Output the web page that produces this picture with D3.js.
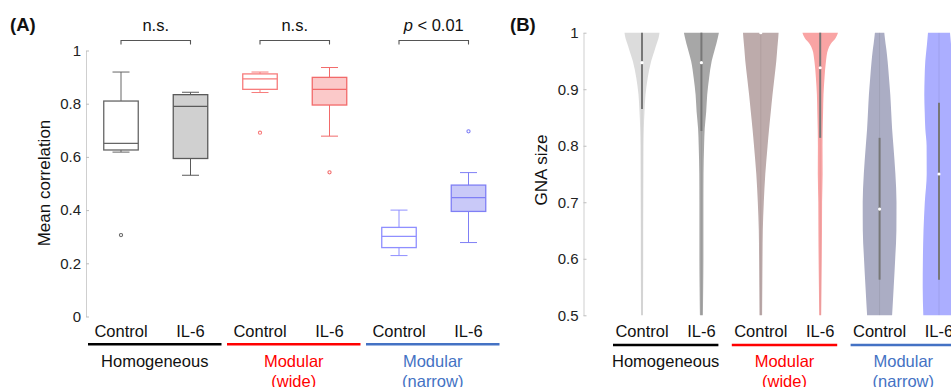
<!DOCTYPE html>
<html>
<head>
<meta charset="utf-8">
<script src="https://cdn.jsdelivr.net/npm/d3@7"></script>
<style>
  body { margin: 0; background: #fff; }
  svg { display: block; font-family: "Liberation Sans", Arial, sans-serif; }
</style>
</head>
<body>
<svg id="chart" width="951" height="387"></svg>
<script>
// ---------- shared categories ----------
const conditions = ["Control", "IL-6"];
const groupLabels = [["Homogeneous"], ["Modular", "(wide)"], ["Modular", "(narrow)"]];
const groupColors = ["#000000", "#ff0000", "#4472c4"];
const groupTextColors = ["#111111", "#ff0000", "#4472c4"];

// ---------- panel A: mean correlation box plots ----------
const corrTicks = [0, 0.2, 0.4, 0.6, 0.8, 1];
const boxWhiskerLow  = [0.618, 0.531, 0.842, 0.678, 0.229, 0.278];
const boxQ1          = [0.626, 0.594, 0.854, 0.795, 0.259, 0.395];
const boxMedian      = [0.651, 0.790, 0.893, 0.854, 0.301, 0.447];
const boxQ3          = [0.810, 0.834, 0.912, 0.899, 0.335, 0.494];
const boxWhiskerHigh = [0.919, 0.843, 0.919, 0.936, 0.400, 0.541];
const outlierBox     = [0, 2, 3, 5];
const outlierValue   = [0.306, 0.691, 0.542, 0.696];
const sigLabels      = ["n.s.", "n.s.", "p < 0.01"];

const boxStroke = ["#666666", "#5a5a5a", "#f77c7c", "#f26a6a", "#8f8fff", "#7f7ff5"];
const boxFill   = ["#ffffff", "#d0d0d0", "#ffffff", "#fbc9c9", "#ffffff", "#c9c9f8"];

// ---------- panel B: GNA size violins ----------
const gnaTicks = [0.5, 0.6, 0.7, 0.8, 0.9, 1];
const gnaGrid = [0.5, 0.55, 0.6, 0.65, 0.7, 0.75, 0.8, 0.83, 0.86, 0.89, 0.92, 0.95, 0.97, 0.98, 0.99, 1.0];
const densHomControl = [1.0, 1.1, 1.2, 1.2, 1.3, 1.4, 1.5, 1.8, 2.5, 3.5, 5.7, 9.2, 12.8, 14.6, 16.5, 17.5];
const densHomIL6     = [1.5, 1.8, 2.0, 2.0, 2.0, 2.1, 2.7, 3.3, 4.8, 5.8, 7.7, 10.3, 13.3, 14.9, 16.3, 17.5];
const densWideControl= [1.3, 1.5, 1.7, 2.0, 3.0, 4.5, 6.8, 8.3, 10.0, 11.7, 13.6, 15.5, 16.4, 16.9, 17.4, 17.8];
const densWideIL6    = [1.0, 1.3, 1.6, 1.8, 1.9, 2.4, 2.3, 2.5, 2.9, 3.3, 4.3, 5.8, 7.8, 10.5, 15.3, 17.8];
const densNarControl = [12.5, 14.1, 15.6, 16.8, 16.9, 15.8, 13.8, 12.5, 11.6, 10.7, 9.4, 8.0, 6.8, 6.0, 5.3, 4.7];
const densNarIL6     = [15.7, 16.3, 16.1, 15.5, 14.2, 12.3, 12.4, 13.7, 14.3, 14.7, 14.4, 13.7, 12.6, 12.0, 11.5, 11.0];
const violinDensity = [densHomControl, densHomIL6, densWideControl, densWideIL6, densNarControl, densNarIL6];
const violinMedian      = [0.947, 0.947, 1.0, 0.938, 0.688, 0.750];
const violinWhiskerLow  = [0.865, 0.826, 1.0, 0.814, 0.563, 0.563];
const violinWhiskerHigh = [1.0, 1.0, 1.0, 1.0, 0.814, 0.876];
const violinFill = ["#dcdcdc", "#a7a7a7", "#bdabab", "#f9a4a4", "#abadc4", "#abaeff"];

const svg = d3.select("#chart");
const tickFmt = d => (d === 0 || d === 1) ? String(d) : d.toFixed(1);

function styleAxis(g) {
  g.select(".domain").attr("stroke", "#cfcfcf");
  g.selectAll(".tick line").attr("stroke", "#bdbdbd");
  g.selectAll(".tick text").attr("fill", "#222").attr("font-size", 15)
    .attr("font-family", "Liberation Sans, Arial, sans-serif");
}

// ===== Panel A =====
const yA = d3.scaleLinear().domain([0, 1]).range([316.5, 50.5]);
const xA = d3.scalePoint().domain(d3.range(6)).range([121, 468.5]);
const boxW = 34.5, capW = 17;

svg.append("text").attr("x", 10).attr("y", 31).attr("font-size", 18.5)
  .attr("font-weight", "bold").attr("fill", "#111").text("(A)");

svg.append("g").attr("transform", "translate(86,0)")
  .call(d3.axisLeft(yA).tickValues(corrTicks).tickFormat(tickFmt)
    .tickSizeInner(-3).tickSizeOuter(0).tickPadding(5))
  .call(styleAxis);

svg.append("text")
  .attr("transform", "translate(50,183) rotate(-90)")
  .attr("text-anchor", "middle").attr("font-size", 17).attr("fill", "#111")
  .text("Mean correlation");

const boxes = svg.append("g").selectAll("g").data(d3.range(6)).join("g")
  .attr("transform", i => `translate(${xA(i)},0)`);
boxes.append("line").attr("y1", i => yA(boxWhiskerLow[i])).attr("y2", i => yA(boxQ1[i]))
  .attr("stroke", i => boxStroke[i]);
boxes.append("line").attr("y1", i => yA(boxQ3[i])).attr("y2", i => yA(boxWhiskerHigh[i]))
  .attr("stroke", i => boxStroke[i]);
boxes.append("line").attr("x1", -capW / 2).attr("x2", capW / 2)
  .attr("y1", i => yA(boxWhiskerLow[i])).attr("y2", i => yA(boxWhiskerLow[i]))
  .attr("stroke", i => boxStroke[i]);
boxes.append("line").attr("x1", -capW / 2).attr("x2", capW / 2)
  .attr("y1", i => yA(boxWhiskerHigh[i])).attr("y2", i => yA(boxWhiskerHigh[i]))
  .attr("stroke", i => boxStroke[i]);
boxes.append("rect").attr("x", -boxW / 2).attr("width", boxW)
  .attr("y", i => yA(boxQ3[i])).attr("height", i => yA(boxQ1[i]) - yA(boxQ3[i]))
  .attr("fill", i => boxFill[i]).attr("stroke", i => boxStroke[i]).attr("stroke-width", 1.3);
boxes.append("line").attr("x1", -boxW / 2).attr("x2", boxW / 2)
  .attr("y1", i => yA(boxMedian[i])).attr("y2", i => yA(boxMedian[i]))
  .attr("stroke", i => boxStroke[i]).attr("stroke-width", 1.3);

svg.append("g").selectAll("circle").data(outlierBox).join("circle")
  .attr("cx", (b) => xA(b)).attr("cy", (b, k) => yA(outlierValue[k])).attr("r", 1.6)
  .attr("fill", "none").attr("stroke", b => boxStroke[b]).attr("stroke-width", 1.1);

// significance brackets
const sig = svg.append("g").selectAll("g").data(d3.range(3)).join("g");
sig.append("path")
  .attr("d", g => `M${xA(2 * g)},44.5V40.5H${xA(2 * g + 1)}V44.5`)
  .attr("fill", "none").attr("stroke", "#555").attr("stroke-width", 1.1);
sig.append("text")
  .attr("x", g => (xA(2 * g) + xA(2 * g + 1)) / 2).attr("y", 31)
  .attr("text-anchor", "middle").attr("font-size", 16.5).attr("fill", "#111")
  .each(function (g) {
    const t = d3.select(this);
    const s = sigLabels[g];
    if (s.startsWith("p")) {
      t.append("tspan").attr("font-style", "italic").text("p");
      t.append("tspan").text(s.slice(1));
    } else {
      t.text(s);
    }
  });

// ===== Panel B =====
const yB = d3.scaleLinear().domain([0.5, 1]).range([315.3, 32.7]);
const xB = d3.scalePoint().domain(d3.range(6)).range([642, 939]);
const halfW = d3.scaleLinear()
  .domain([0, d3.max(violinDensity.flat())]).range([0, 17.8]);

svg.append("text").attr("x", 510).attr("y", 31).attr("font-size", 18.5)
  .attr("font-weight", "bold").attr("fill", "#111").text("(B)");

svg.append("g").attr("transform", "translate(583.5,0)")
  .call(d3.axisLeft(yB).tickValues(gnaTicks).tickFormat(tickFmt)
    .tickSizeInner(-3).tickSizeOuter(0).tickPadding(5))
  .call(styleAxis);

svg.append("text")
  .attr("transform", "translate(546.5,170) rotate(-90)")
  .attr("text-anchor", "middle").attr("font-size", 17).attr("fill", "#111")
  .text("GNA size");

const violinArea = d3.area()
  .y(d => yB(d[0]))
  .x0(d => -halfW(d[1]))
  .x1(d => halfW(d[1]))
  .curve(d3.curveMonotoneY);

const violins = svg.append("g").selectAll("g").data(d3.range(6)).join("g")
  .attr("transform", i => `translate(${xB(i)},0)`);
violins.append("path")
  .attr("d", i => violinArea(gnaGrid.map((v, k) => [v, violinDensity[i][k]])))
  .attr("fill", i => violinFill[i]);
// faint full-range spine
violins.append("line")
  .attr("y1", yB(0.5)).attr("y2", yB(1))
  .attr("stroke", "#000").attr("stroke-opacity", 0.07).attr("stroke-width", 1);
// whisker between the lower and upper quartile-based limits
violins.append("line")
  .attr("y1", i => yB(violinWhiskerLow[i])).attr("y2", i => yB(violinWhiskerHigh[i]))
  .attr("stroke", "#777").attr("stroke-width", 2);
violins.append("circle")
  .attr("cy", i => yB(violinMedian[i])).attr("r", 1.6).attr("fill", "#fff");

// ===== category labels and group underlines =====
function categoryLabels(x, lineLeft, lineRight, lineY) {
  const g = svg.append("g");
  g.selectAll("text.cond").data(d3.range(6)).join("text")
    .attr("class", "cond")
    .attr("x", i => x(i)).attr("y", 337)
    .attr("text-anchor", "middle").attr("font-size", 16.5).attr("fill", "#111")
    .text(i => conditions[i % 2]);
  g.selectAll("line").data(d3.range(3)).join("line")
    .attr("x1", k => x(2 * k) - lineLeft).attr("x2", k => x(2 * k + 1) + lineRight)
    .attr("y1", lineY).attr("y2", lineY)
    .attr("stroke", k => groupColors[k]).attr("stroke-width", 2.6);
  g.selectAll("text.grp").data(d3.range(3)).join("text")
    .attr("class", "grp")
    .attr("x", k => (x(2 * k) - lineLeft + x(2 * k + 1) + lineRight) / 2)
    .attr("y", 366.5)
    .attr("text-anchor", "middle").attr("font-size", 16.5)
    .attr("fill", k => groupTextColors[k])
    .each(function (k) {
      const t = d3.select(this);
      groupLabels[k].forEach((s, j) => {
        t.append("tspan").attr("x", t.attr("x")).attr("dy", j === 0 ? 0 : 20).text(s);
      });
    });
}
categoryLabels(xA, 33, 31, 344.3);
categoryLabels(xB, 29, 17, 345);
</script>
</body>
</html>
